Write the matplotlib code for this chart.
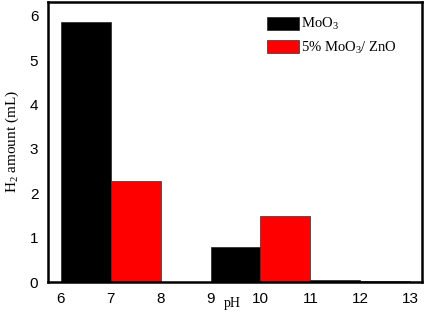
import matplotlib
matplotlib.use("Agg")
import matplotlib.pyplot as plt
from matplotlib.patches import Patch

plt.rcParams["mathtext.fontset"] = "custom"
plt.rcParams["mathtext.rm"] = "Liberation Serif"
plt.rcParams["mathtext.it"] = "Liberation Serif:italic"

groups = [7, 10, 12]
moo3 = [5.86, 0.79, 0.04]
moo3_zno = [2.27, 1.48, 0.03]
series_names = ["MoO$_3$", "5% MoO$_3$/ ZnO"]
colors = ["#000000", "#ff0000"]
xticks = [6, 7, 8, 9, 10, 11, 12, 13]
yticks = [0, 1, 2, 3, 4, 5, 6]

fig = plt.figure(figsize=(4.25, 3.12), dpi=100)
ax = fig.add_axes([0.113, 0.096, 0.880, 0.898])

w = 1.0
for i, g in enumerate(groups):
    ax.bar(g - w / 2, moo3[i], width=w, color=colors[0], edgecolor="#222222", linewidth=0.5)
    ax.bar(g + w / 2, moo3_zno[i], width=w, color=colors[1], edgecolor="#333333", linewidth=0.5)

ax.set_xlim(5.74, 13.24)
ax.set_ylim(0, 6.31)
ax.set_xticks(xticks)
ax.set_yticks(yticks)
ax.tick_params(length=0, labelsize=11, pad=7)
for lab in ax.get_xticklabels() + ax.get_yticklabels():
    lab.set_fontfamily("Liberation Sans")
for s in ax.spines.values():
    s.set_linewidth(1.8)

ax.set_ylabel("H$_2$ amount (mL)", fontfamily="Liberation Serif", fontsize=11, labelpad=6)
ax.text(9.43, -0.34, "pH", fontfamily="Liberation Serif", fontsize=10, ha="center", va="top",
        transform=ax.transData)

handles = [Patch(facecolor=colors[0], edgecolor="#222222", linewidth=0.5),
           Patch(facecolor=colors[1], edgecolor="#333333", linewidth=0.5)]
ax.legend(handles, series_names, loc="upper left", bbox_to_anchor=(0.551, 0.996),
          frameon=False, prop={"family": "Liberation Serif", "size": 10.5},
          handlelength=2.2, handleheight=1.0, handletextpad=0.15, labelspacing=0.5)

fig.savefig("out.png", dpi=100)
